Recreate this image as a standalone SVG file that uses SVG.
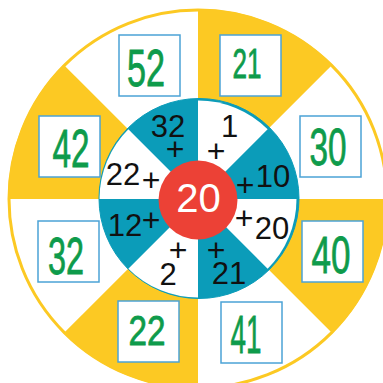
<svg xmlns="http://www.w3.org/2000/svg" width="383" height="383" viewBox="0 0 383 383">
<style>
.yel{fill:#fcc923}
.wh{fill:#ffffff}
.box{fill:#ffffff;stroke:#4ba3d6;stroke-width:1.5}
.g{font-family:"Liberation Sans",Arial,sans-serif;fill:#0e9b4b;stroke:#0e9b4b;stroke-width:0.8;text-anchor:middle}
.n{font-family:"Liberation Sans",Arial,sans-serif;fill:#111111;font-size:31px;text-anchor:middle}
.p{font-family:"Liberation Sans",Arial,sans-serif;fill:#111111;font-size:32px;text-anchor:middle}
</style>
<rect width="383" height="383" fill="#ffffff"/>
<g id="outer-wheel">
<circle cx="198" cy="199" r="189" fill="#ffffff" stroke="#fcc923" stroke-width="3"/>
<path class="yel" d="M198,199 L198,9 A190,190 0 0 1 332.35,64.65 Z"/>
<path class="yel" d="M198,199 L8,199 A190,190 0 0 1 63.65,64.65 Z"/>
<path class="yel" d="M198,199 L198,389 A190,190 0 0 1 63.65,333.35 Z"/>
<path class="yel" d="M198,199 L388,199 A190,190 0 0 1 332.35,333.35 Z"/>
</g>
<g id="inner-wheel">
<circle cx="199" cy="198.5" r="100" fill="#0b9cb9" stroke="#0b9cb9" stroke-width="1"/>
<path class="wh" d="M198,199 L198,100.5 A98.5,98.5 0 0 1 267.65,129.35 Z"/>
<path class="wh" d="M198,199 L99.5,199 A98.5,98.5 0 0 1 128.35,129.35 Z"/>
<path class="wh" d="M198,199 L198,297.5 A98.5,98.5 0 0 1 128.35,268.65 Z"/>
<path class="wh" d="M198,199 L296.5,199 A98.5,98.5 0 0 1 267.65,268.65 Z"/>
</g>
<g id="inner-labels">
<text class="n" x="168" y="137">32</text><text class="p" x="175" y="160">+</text>
<text class="n" x="229.5" y="137">1</text><text class="p" x="216" y="162">+</text>
<text class="n" x="273" y="187">10</text><text class="p" x="245" y="196">+</text>
<text class="n" x="123" y="185">22</text><text class="p" x="151" y="191">+</text>
<text class="n" x="125" y="236">12</text><text class="p" x="151" y="231">+</text>
<text class="p" x="178" y="261">+</text><text class="n" x="168" y="285">2</text>
<text class="p" x="244" y="229">+</text><text class="n" x="272" y="239">20</text>
<text class="p" x="216" y="261">+</text><text class="n" x="229" y="284">21</text>
</g>
<g id="center">
<circle cx="198" cy="200" r="39.5" fill="#ec4136"/>
<text x="198.5" y="212" font-family="Liberation Sans,Arial,sans-serif" font-size="40" fill="#ffffff" text-anchor="middle">20</text>
</g>
<g id="box-52"><rect class="box" x="119" y="35" width="61" height="61"/><text class="g" x="146" y="86" font-size="52" textLength="38" lengthAdjust="spacingAndGlyphs">52</text></g>
<g id="box-21"><rect class="box" x="220" y="35" width="61" height="61"/><text class="g" x="247" y="78" font-size="42" textLength="29" lengthAdjust="spacingAndGlyphs">21</text></g>
<g id="box-42"><rect class="box" x="39" y="116" width="61" height="61"/><text class="g" x="71" y="167" font-size="53" textLength="37" lengthAdjust="spacingAndGlyphs">42</text></g>
<g id="box-30"><rect class="box" x="300" y="116" width="61" height="61"/><text class="g" x="328" y="165" font-size="51" textLength="37" lengthAdjust="spacingAndGlyphs">30</text></g>
<g id="box-32"><rect class="box" x="38" y="221" width="61" height="61"/><text class="g" x="66" y="274" font-size="52" textLength="36" lengthAdjust="spacingAndGlyphs">32</text></g>
<g id="box-40"><rect class="box" x="302" y="221" width="61" height="61"/><text class="g" x="331" y="273" font-size="52" textLength="39" lengthAdjust="spacingAndGlyphs">40</text></g>
<g id="box-22"><rect class="box" x="118" y="301" width="61" height="61"/><text class="g" x="147" y="345" font-size="43" textLength="37" lengthAdjust="spacingAndGlyphs">22</text></g>
<g id="box-41"><rect class="box" x="221" y="302" width="61" height="61"/><text class="g" x="246" y="353" font-size="54" textLength="31" lengthAdjust="spacingAndGlyphs">41</text></g>
</svg>
